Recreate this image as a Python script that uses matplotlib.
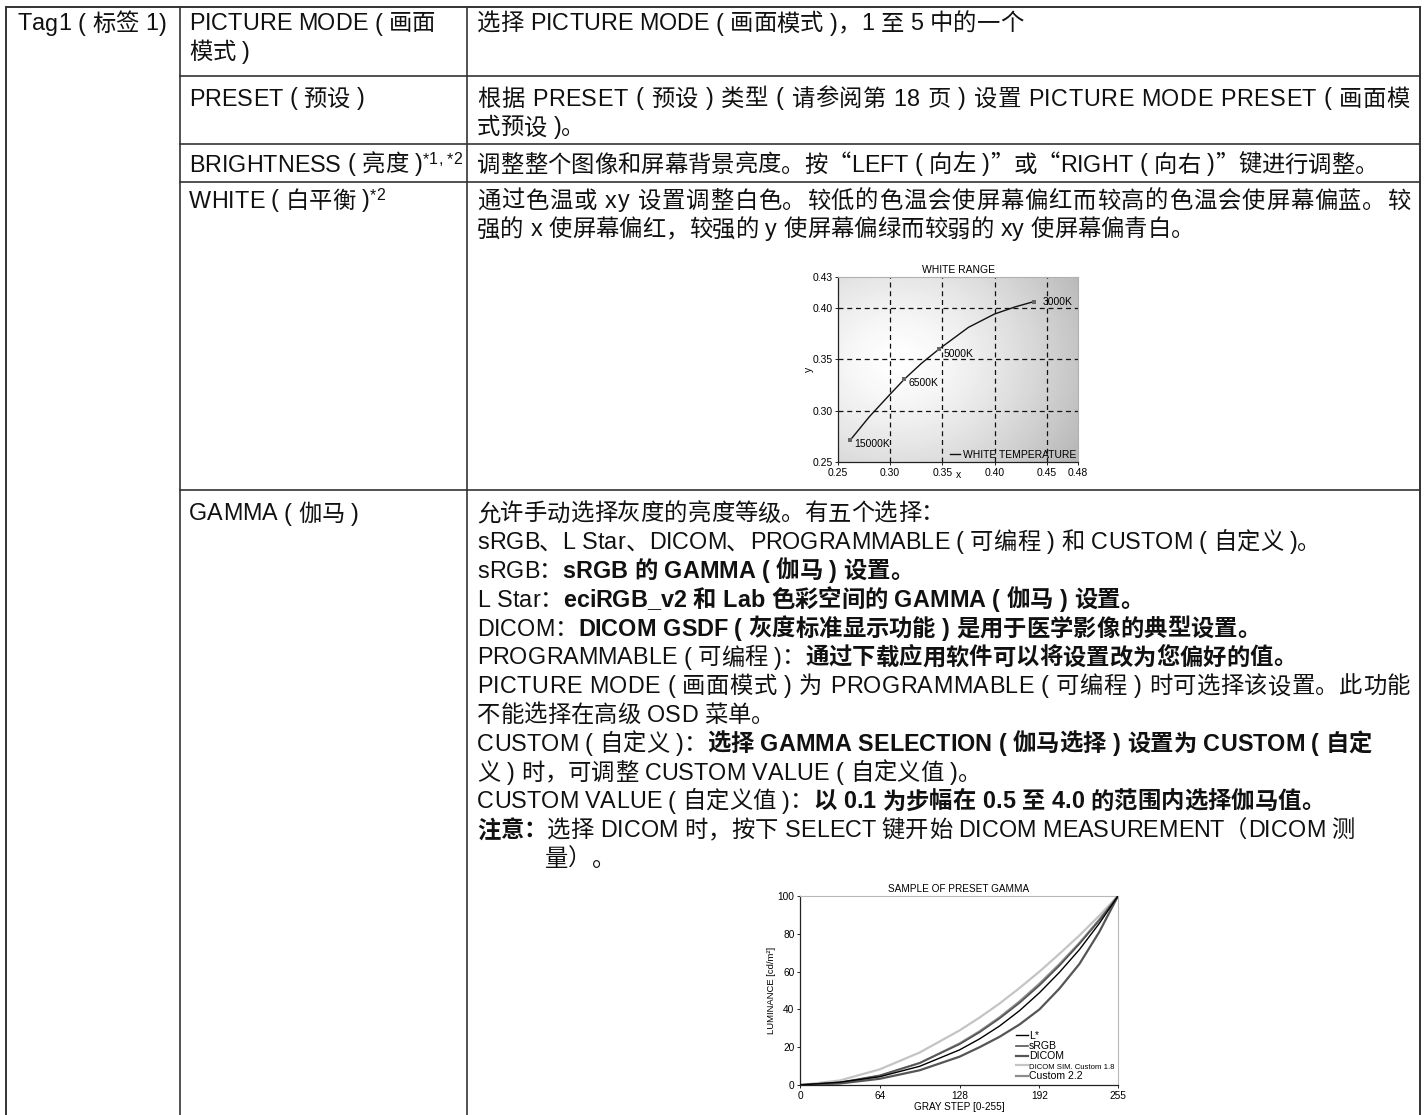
import numpy as np
import matplotlib
matplotlib.use('Agg')
import matplotlib.pyplot as plt
from matplotlib.font_manager import FontProperties

# ---- table text ----
tag_label = "Tag1 ( 标签 1)"
item_labels = [
    [[("PICTURE MODE ( 画面", 'n')], [("模式 )", 'n')]],
    [[("PRESET ( 预设 )", 'n')]],
    [[("BRIGHTNESS ( 亮度 )", 'n'), ("*1, *2", 's')]],
    [[("WHITE ( 白平衡 )", 'n'), ("*2", 's')]],
    [[("GAMMA ( 伽马 )", 'n')]],
]
desc_lines = [
    [([("选择 PICTURE MODE ( 画面模式 )，1 至 5 中的一个", 'n')], False)],
    [([("根据 PRESET ( 预设 ) 类型 ( 请参阅第 18 页 ) 设置 PICTURE MODE PRESET ( 画面模", 'n')], True),
     ([("式预设 )。", 'n')], False)],
    [([("调整整个图像和屏幕背景亮度。按“LEFT ( 向左 )”或“RIGHT ( 向右 )”键进行调整。", 'n')], False)],
    [([("通过色温或 xy 设置调整白色。较低的色温会使屏幕偏红而较高的色温会使屏幕偏蓝。较", 'n')], True),
     ([("强的 x 使屏幕偏红，较强的 y 使屏幕偏绿而较弱的 xy 使屏幕偏青白。", 'n')], False)],
    [([("允许手动选择灰度的亮度等级。有五个选择：", 'n')], False),
     ([("sRGB、L Star、DICOM、PROGRAMMABLE ( 可编程 ) 和 CUSTOM ( 自定义 )。", 'n')], False),
     ([("sRGB：", 'n'), ("sRGB 的 GAMMA ( 伽马 ) 设置。", 'b')], False),
     ([("L Star：", 'n'), ("eciRGB_v2 和 Lab 色彩空间的 GAMMA ( 伽马 ) 设置。", 'b')], False),
     ([("DICOM：", 'n'), ("DICOM GSDF ( 灰度标准显示功能 ) 是用于医学影像的典型设置。", 'b')], False),
     ([("PROGRAMMABLE ( 可编程 )：", 'n'), ("通过下载应用软件可以将设置改为您偏好的值。", 'b')], False),
     ([("PICTURE MODE ( 画面模式 ) 为 PROGRAMMABLE ( 可编程 ) 时可选择该设置。此功能", 'n')], True),
     ([("不能选择在高级 OSD 菜单。", 'n')], False),
     ([("CUSTOM ( 自定义 )：", 'n'), ("选择 GAMMA SELECTION ( 伽马选择 ) 设置为 CUSTOM ( 自定", 'b')], False),
     ([("义 ) 时，可调整 CUSTOM VALUE ( 自定义值 )。", 'n')], False),
     ([("CUSTOM VALUE ( 自定义值 )：", 'n'), ("以 0.1 为步幅在 0.5 至 4.0 的范围内选择伽马值。", 'b')], False),
     ([("注意：", 'b'), ("选择 DICOM 时，按下 SELECT 键开始 DICOM MEASUREMENT（DICOM 测", 'n')], False)],
]
note_tail = "量）。"

# ---- WHITE RANGE data ----
temp_names = ["15000K", "6500K", "5000K", "3000K"]
temp_x = [0.2615, 0.3135, 0.347, 0.4375]
temp_y = [0.271, 0.3305, 0.360, 0.406]
curve_x = [0.2615, 0.28, 0.30, 0.3135, 0.33, 0.347, 0.375, 0.40, 0.42, 0.4375]
curve_y = [0.271, 0.294, 0.316, 0.3305, 0.346, 0.360, 0.381, 0.394, 0.401, 0.406]
wx_ticks = [0.25, 0.30, 0.35, 0.40, 0.45, 0.48]
wy_ticks = [0.25, 0.30, 0.35, 0.40, 0.43]

# ---- GAMMA data ----
gray = [0, 32, 64, 96, 128, 144, 160, 176, 192, 208, 224, 240, 255]
lstar = [0, 1.5, 4.4, 9.9, 18.6, 24.4, 31.2, 39.3, 48.8, 59.6, 71.6, 85.5, 100]
srgb = [0, 1.4, 5.1, 11.7, 21.6, 27.9, 35.2, 43.4, 52.7, 63.1, 74.6, 87.1, 100]
dicom = [0, 0.8, 3.3, 7.8, 15.0, 20.0, 25.5, 32.0, 40.0, 51.0, 64.0, 81.0, 100]
cust18 = [0, 2.4, 8.3, 17.2, 28.9, 35.7, 43.1, 51.3, 60.0, 69.4, 79.1, 89.6, 100]
cust22 = [0, 1.0, 4.8, 11.6, 22.0, 28.4, 35.8, 44.2, 53.6, 63.9, 75.1, 87.5, 100]
gx_ticks = [0, 64, 128, 192, 255]
gy_ticks = [0, 20, 40, 60, 80, 100]

W, H = 1427, 1115
FAM = ['Liberation Sans', 'Noto Sans CJK SC']
CJK = ['Noto Sans CJK SC']
FS = 16.8
STYLES = {'n': ('normal', FS, 0), 'b': ('bold', FS, 0), 's': ('normal', 11.5, -7)}

fig = plt.figure(figsize=(W / 100, H / 100), dpi=100)
ax = fig.add_axes([0, 0, 1, 1])
ax.set_xlim(0, W)
ax.set_ylim(H, 0)
ax.axis('off')
renderer = fig.canvas.get_renderer()

def fam_of(ch):
    # curly quotes should come from the CJK font (full width)
    return CJK if ch in '“”' else FAM

_adv = {}
def advance(ch, st):
    if (ch, st) not in _adv:
        wt, sz, _ = STYLES[st]
        fp = FontProperties(family=fam_of(ch), size=sz, weight=wt)
        fb = FontProperties(family=FAM, size=sz, weight=wt)
        w1 = renderer.get_text_width_height_descent('|', fb, ismath=False)[0]
        both = renderer.get_text_width_height_descent('|' + ch + '|', fp, ismath=False)[0] \
            if fam_of(ch) is FAM else None
        if both is None:
            # measure the CJK glyph alone through its own font
            both = renderer.get_text_width_height_descent('|' + ch + '|', fp, ismath=False)[0]
            w0 = renderer.get_text_width_height_descent('||', fp, ismath=False)[0]
        else:
            w0 = renderer.get_text_width_height_descent('||', fb, ismath=False)[0]
        _adv[(ch, st)] = both - w0
    return _adv[(ch, st)]

def draw_line(x, yc, runs, right=None):
    chars = [(c, st) for txt, st in runs for c in txt]
    total = sum(advance(c, st) for c, st in chars)
    extra = 0
    if right is not None:
        extra = (right - x - total) / (len(chars) - 1)
    base = yc + 8.5
    for c, st in chars:
        wt, sz, dy = STYLES[st]
        if c != ' ':
            ax.text(x, base + dy, c, family=fam_of(c), fontsize=sz, fontweight=wt,
                    ha='left', va='baseline', color='#111111')
        x += advance(c, st) + extra

# table grid
X0, X1, X2, X3 = 6, 180, 467, 1420
rows = [7, 76, 144, 182, 490]
lc = '#333333'
ax.plot([X0, X3], [rows[0], rows[0]], color=lc, lw=1.4)
for r in rows[1:]:
    ax.plot([X1, X3], [r, r], color=lc, lw=1.2)
for xv in (X0, X3):
    ax.plot([xv, xv], [rows[0], H], color=lc, lw=1.4)
for xv in (X1, X2):
    ax.plot([xv, xv], [rows[0], H], color=lc, lw=1.2)

LS = 28.8
row_first = [22, 97, 163, 199, 512]
draw_line(18, 22, [(tag_label, 'n')])
for i, lines in enumerate(item_labels):
    for j, runs in enumerate(lines):
        draw_line(189, row_first[i] + j * LS, runs)
for i, lines in enumerate(desc_lines):
    for j, (runs, just) in enumerate(lines):
        draw_line(477, row_first[i] + j * LS, runs, right=1410 if just else None)
draw_line(545, row_first[4] + 12 * LS, [(note_tail, 'n')])

# ---- WHITE RANGE chart ----
small = dict(family='Liberation Sans')
ax1 = fig.add_axes([838 / W, 1 - 462 / H, 240 / W, 185 / H])
gx_, gy_ = np.meshgrid(np.linspace(0, 1, 240), np.linspace(0, 1, 185))
d = np.hypot(gx_ - 0.25, (gy_ - 0.55) / 1.1)
shade = 1 - 0.27 * np.clip(d / 0.85, 0, 1) ** 1.4
ax1.imshow(shade, extent=[0.25, 0.48, 0.25, 0.43], origin='lower', cmap='gray',
           vmin=0, vmax=1, aspect='auto', zorder=0, interpolation='bilinear')
for v in wx_ticks[1:-1]:
    ax1.axvline(v, color='#111111', lw=0.9, ls=(0, (4, 3)), zorder=1)
for v in wy_ticks[1:-1]:
    ax1.axhline(v, color='#111111', lw=0.9, ls=(0, (4, 3)), zorder=1)
ax1.plot(curve_x, curve_y, color='#111111', lw=1.0, zorder=2, label='WHITE TEMPERATURE')
ax1.plot(temp_x, temp_y, ls='none', marker='s', ms=3.5, color='#666666', mew=0, zorder=3)
offs = [(0.004, -0.0033), (0.004, -0.0033), (0.0043, -0.0046), (0.009, 0.0)]
for nm, xv, yv, (ox, oy) in zip(temp_names, temp_x, temp_y, offs):
    ax1.text(xv + ox, yv + oy, nm, fontsize=7.5, va='center', ha='left', zorder=4, **small)
ax1.set_xlim(0.25, 0.48)
ax1.set_ylim(0.25, 0.43)
ax1.set_xticks(wx_ticks)
ax1.set_xticklabels([f'{v:.2f}' for v in wx_ticks], **small)
ax1.set_yticks(wy_ticks)
ax1.set_yticklabels([f'{v:.2f}' for v in wy_ticks], **small)
ax1.tick_params(labelsize=7.5, length=2.5, width=0.6, pad=1.5)
ax1.set_title('WHITE RANGE', fontsize=7.5, pad=3, **small)
ax1.set_xlabel('x', fontsize=7.5, **small)
ax1.xaxis.set_label_coords(0.5, -0.045)
ax1.set_ylabel('y', fontsize=7.5, **small)
ax1.yaxis.set_label_coords(-0.1, 0.5)
for s in ('top', 'right'):
    ax1.spines[s].set_color('#b0b0b0')
for s in ('left', 'bottom'):
    ax1.spines[s].set_color('#222222')
    ax1.spines[s].set_linewidth(0.9)
ax1.legend(loc='lower right', frameon=False, handlelength=1.0,
           handletextpad=0.25, borderpad=0.1, borderaxespad=0.1,
           prop=FontProperties(family='Liberation Sans', size=7.5))

# ---- GAMMA chart ----
ax2 = fig.add_axes([800 / W, 1 - 1085 / H, 318 / W, 189 / H])
ax2.plot(gray, lstar, color='#000000', lw=1.0, label='L*', zorder=5)
ax2.plot(gray, srgb, color='#555555', lw=1.2, label='sRGB', zorder=3)
ax2.plot(gray, dicom, color='#555555', lw=1.6, label='DICOM', zorder=4)
ax2.plot(gray, cust18, color='#c4c4c4', lw=1.6, label='DICOM SIM. Custom 1.8', zorder=1)
ax2.plot(gray, cust22, color='#8c8c8c', lw=1.6, label='Custom 2.2', zorder=2)
ax2.set_xlim(0, 255)
ax2.set_ylim(0, 100)
ax2.set_xticks(gx_ticks)
ax2.set_xticklabels([str(v) for v in gx_ticks], **small)
ax2.set_yticks(gy_ticks)
ax2.set_yticklabels([str(v) for v in gy_ticks], **small)
ax2.tick_params(labelsize=7.3, length=2.5, width=0.6, pad=1.5)
ax2.set_title('SAMPLE OF PRESET GAMMA', fontsize=7.2, pad=3, **small)
ax2.set_xlabel('GRAY STEP [0-255]', fontsize=7.2, labelpad=1, **small)
ax2.set_ylabel('LUMINANCE [cd/m²]', fontsize=6.8, **small)
ax2.yaxis.set_label_coords(-0.075, 0.5)
for s in ('top', 'right'):
    ax2.spines[s].set_color('#b8b8b8')
for s in ('left', 'bottom'):
    ax2.spines[s].set_color('#222222')
    ax2.spines[s].set_linewidth(0.9)
leg = ax2.legend(loc='lower right', frameon=False, handlelength=1.1, handletextpad=0.1,
                 labelspacing=0.02, borderpad=0.1, borderaxespad=0.25,
                 prop=FontProperties(family='Liberation Sans', size=7.6))
leg.get_texts()[3].set_fontsize(5.6)
leg.get_texts()[3].set_fontstretch('condensed')

fig.savefig('out.png', dpi=100)
